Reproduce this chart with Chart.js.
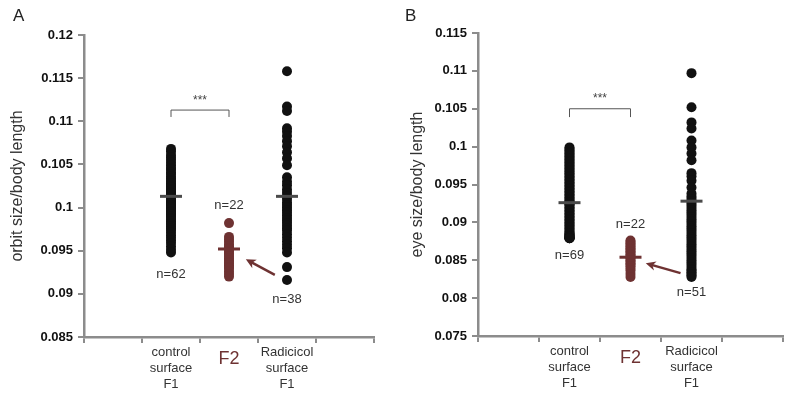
<!DOCTYPE html>
<html>
<head>
<meta charset="utf-8">
<script src="https://cdn.jsdelivr.net/npm/chart.js@4.4.0/dist/chart.umd.min.js"></script>
<style>
  body { margin: 0; background: #fff; }
  .wrap { position: relative; width: 800px; height: 397px; }
  .panel { position: absolute; top: 0; width: 400px; height: 397px; }
</style>
</head>
<body>
<div class="wrap">
  <div class="panel" style="left:0"><canvas id="chartA" width="400" height="397"></canvas></div>
  <div class="panel" style="left:400px"><canvas id="chartB" width="400" height="397"></canvas></div>
</div>
<script>
// dot plots: orbit size (A) and eye size (B) relative to body length

const groupKeys = ['left', 'control', 'F2', 'Radicicol', 'right'];
const groupLabels = ['', ['control', 'surface', 'F1'], 'F2', ['Radicicol', 'surface', 'F1'], ''];

// panel A - orbit size/body length
const orbitControl = [
  0.1068, 0.1065, 0.1061, 0.1058, 0.1055, 0.1052, 0.1049, 0.1046, 0.1044, 0.1041,
  0.1039, 0.1036, 0.1034, 0.1032, 0.1030, 0.1028, 0.1026, 0.1024, 0.1023, 0.1021,
  0.1020, 0.1018, 0.1017, 0.1015, 0.1014, 0.1013, 0.1012, 0.1011, 0.1010, 0.1009,
  0.1008, 0.1007, 0.1006, 0.1005, 0.1004, 0.1003, 0.1002, 0.1001, 0.1000, 0.0999,
  0.0998, 0.0996, 0.0995, 0.0993, 0.0992, 0.0990, 0.0988, 0.0986, 0.0984, 0.0982,
  0.0980, 0.0978, 0.0976, 0.0974, 0.0971, 0.0968, 0.0965, 0.0962, 0.0959, 0.0955,
  0.0951, 0.0948
];
const orbitF2 = [
  0.0982, 0.0966, 0.0963, 0.0960, 0.0957, 0.0955, 0.0953, 0.0951, 0.0949, 0.0947,
  0.0945, 0.0943, 0.0941, 0.0939, 0.0937, 0.0935, 0.0933, 0.0931, 0.0929, 0.0926,
  0.0923, 0.0920
];
const orbitRadicicol = [
  0.1158, 0.1117, 0.1112, 0.1092, 0.1088, 0.1083, 0.1077, 0.1071, 0.1064, 0.1057,
  0.1049, 0.1035, 0.1030, 0.1026, 0.1021, 0.1017, 0.1013, 0.1010, 0.1006, 0.1003,
  0.1000, 0.0997, 0.0994, 0.0991, 0.0988, 0.0985, 0.0982, 0.0979, 0.0976, 0.0973,
  0.0969, 0.0965, 0.0961, 0.0957, 0.0953, 0.0948, 0.0931, 0.0916
];
const orbitMeans = [0.1013, 0.0952, 0.1013];
const orbitCounts = ['n=62', 'n=22', 'n=38'];
const orbitTicks = [0.085, 0.12];

// panel B - eye size/body length
const eyeControl = [
  0.0999, 0.0997, 0.0995, 0.0993, 0.0991, 0.0989, 0.0987, 0.0985, 0.0983, 0.0981,
  0.0979, 0.0977, 0.0975, 0.0973, 0.0971, 0.0969, 0.0967, 0.0965, 0.0963, 0.0961,
  0.0959, 0.0957, 0.0955, 0.0953, 0.0951, 0.0949, 0.0947, 0.0945, 0.0943, 0.0941,
  0.0939, 0.0937, 0.0935, 0.0933, 0.0931, 0.0929, 0.0927, 0.0926, 0.0925, 0.0924,
  0.0922, 0.0920, 0.0918, 0.0916, 0.0914, 0.0912, 0.0910, 0.0908, 0.0906, 0.0904,
  0.0902, 0.0900, 0.0898, 0.0896, 0.0894, 0.0892, 0.0890, 0.0888, 0.0886, 0.0885,
  0.0884, 0.0883, 0.0882, 0.0881, 0.0880, 0.0880, 0.0879, 0.0879, 0.0879
];
const eyeF2 = [
  0.0876, 0.0874, 0.0872, 0.0870, 0.0868, 0.0866, 0.0864, 0.0862, 0.0860, 0.0858,
  0.0856, 0.0854, 0.0852, 0.0850, 0.0848, 0.0846, 0.0844, 0.0842, 0.0839, 0.0836,
  0.0832, 0.0828
];
const eyeRadicicol = [
  0.1097, 0.1052, 0.1032, 0.1024, 0.1008, 0.0999, 0.0991, 0.0982, 0.0965, 0.0961,
  0.0955, 0.0946, 0.0938, 0.0934, 0.0931, 0.0928, 0.0925, 0.0922, 0.0919, 0.0916,
  0.0913, 0.0910, 0.0907, 0.0904, 0.0901, 0.0898, 0.0895, 0.0892, 0.0889, 0.0886,
  0.0883, 0.0880, 0.0877, 0.0874, 0.0871, 0.0868, 0.0865, 0.0862, 0.0859, 0.0856,
  0.0853, 0.0850, 0.0847, 0.0844, 0.0841, 0.0838, 0.0836, 0.0834, 0.0832, 0.0830,
  0.0828
];
const eyeMeans = [0.0926, 0.0854, 0.0928];
const eyeCounts = ['n=69', 'n=22', 'n=51'];
const eyeTicks = [0.075, 0.115];

const BLACK = '#111111';
const BROWN = '#6e3232';
const AXIS = '#8c8c8c';
const FONT = 'Arial, "Liberation Sans"';

function toPoints(key, values) {
    return values.map(v => ({ x: key, y: v }));
}

// annotations: n labels, significance bracket, arrow, panel letter
function makeAnnotations(cfg) {
    return {
        id: 'annotations',
        afterDraw(chart) {
            const c = chart.ctx;
            const xs = chart.scales.x, ys = chart.scales.y;
            const px = v => xs.getPixelForValue(v);
            const py = v => ys.getPixelForValue(v);
            c.save();
            c.textAlign = 'center';
            c.textBaseline = 'middle';
            c.font = '13px ' + FONT;
            c.fillStyle = '#333';
            cfg.counts.forEach((t, i) => c.fillText(t, px(i + 1), py(cfg.countY[i])));

            // bracket + stars
            c.strokeStyle = '#555';
            c.lineWidth = 1;
            c.beginPath();
            c.moveTo(px(1), py(cfg.bracket[1]));
            c.lineTo(px(1), py(cfg.bracket[0]));
            c.lineTo(px(2), py(cfg.bracket[0]));
            c.lineTo(px(2), py(cfg.bracket[1]));
            c.stroke();
            c.font = '12px ' + FONT;
            c.fillStyle = '#444';
            c.fillText('***', px(1.5), py(cfg.stars));

            // arrow
            const x1 = px(cfg.arrow[0]), y1 = py(cfg.arrow[1]);
            const x2 = px(cfg.arrow[2]), y2 = py(cfg.arrow[3]);
            const ang = Math.atan2(y2 - y1, x2 - x1);
            c.strokeStyle = BROWN;
            c.fillStyle = BROWN;
            c.lineWidth = 2.5;
            c.beginPath();
            c.moveTo(x1, y1);
            c.lineTo(x2 - 6 * Math.cos(ang), y2 - 6 * Math.sin(ang));
            c.stroke();
            c.beginPath();
            c.moveTo(x2, y2);
            c.lineTo(x2 - 11 * Math.cos(ang - 0.45), y2 - 11 * Math.sin(ang - 0.45));
            c.lineTo(x2 - 7 * Math.cos(ang), y2 - 7 * Math.sin(ang));
            c.lineTo(x2 - 11 * Math.cos(ang + 0.45), y2 - 11 * Math.sin(ang + 0.45));
            c.closePath();
            c.fill();

            // panel letter
            c.textAlign = 'left';
            c.font = '17px ' + FONT;
            c.fillStyle = '#222';
            c.fillText(cfg.letter, cfg.letterX, 16);
            c.restore();
        }
    };
}

function makeChart(id, cfg) {
    const ctx = document.getElementById(id);
    return new Chart(ctx, {
        type: 'scatter',
        data: {
            datasets: [
                {
                    label: 'mean',
                    data: cfg.means.map((m, i) => ({ x: groupKeys[i + 1], y: m })),
                    pointStyle: 'line',
                    pointRadius: 11,
                    pointBorderWidth: 3,
                    borderColor: ['#4a4a4a', BROWN, '#4a4a4a'],
                    backgroundColor: 'transparent'
                },
                { label: 'control', data: toPoints('control', cfg.control), pointRadius: 5, borderWidth: 0, backgroundColor: BLACK },
                { label: 'F2', data: toPoints('F2', cfg.f2), pointRadius: 5, borderWidth: 0, backgroundColor: BROWN },
                { label: 'Radicicol', data: toPoints('Radicicol', cfg.radicicol), pointRadius: 5, borderWidth: 0, backgroundColor: BLACK }
            ]
        },
        options: {
            responsive: false,
            animation: false,
            layout: { padding: { left: 0, top: cfg.top, right: cfg.right, bottom: 0 } },
            plugins: { legend: { display: false }, tooltip: { enabled: false } },
            scales: {
                x: {
                    type: 'category',
                    labels: groupKeys,
                    offset: true,
                    afterFit: s => { s.height = cfg.xHeight; },
                    border: { color: AXIS, width: 2.5 },
                    grid: { offset: true, drawOnChartArea: false, color: AXIS, lineWidth: 2, tickLength: 6 },
                    ticks: {
                        autoSkip: false,
                        maxRotation: 0,
                        padding: 2,
                        crossAlign: 'near',
                        callback: (v, i) => groupLabels[i],
                        color: c => c.index === 2 ? BROWN : '#333',
                        font: c => c.index === 2
                            ? { family: FONT, size: 18, lineHeight: 1.55 }
                            : { family: FONT, size: 13, lineHeight: 1.2 }
                    }
                },
                y: {
                    min: cfg.ticks[0],
                    max: cfg.ticks[1],
                    afterFit: s => { s.width = cfg.yWidth; },
                    border: { color: AXIS, width: 2.5 },
                    grid: { drawOnChartArea: false, color: AXIS, lineWidth: 2, tickLength: 6 },
                    ticks: {
                        stepSize: 0.005,
                        padding: 5,
                        color: '#111',
                        font: { family: FONT, size: 13, weight: 'bold' },
                        callback: v => String(+Number(v).toFixed(3))
                    },
                    title: {
                        display: true,
                        text: cfg.yTitle,
                        color: '#333',
                        padding: { top: 8, bottom: 0 },
                        font: { family: FONT, size: 16 }
                    }
                }
            }
        },
        plugins: [makeAnnotations(cfg)]
    });
}

makeChart('chartA', {
    control: orbitControl, f2: orbitF2, radicicol: orbitRadicicol,
    means: orbitMeans, counts: orbitCounts, ticks: orbitTicks,
    yTitle: 'orbit size/body length',
    countY: [0.0922, 0.1002, 0.0893],
    bracket: [0.1113, 0.1105], stars: 0.1124,
    arrow: [2.79, 0.0922, 2.29, 0.0940],
    letter: 'A', letterX: 13,
    top: 35, right: 26, yWidth: 84, xHeight: 60
});

makeChart('chartB', {
    control: eyeControl, f2: eyeF2, radicicol: eyeRadicicol,
    means: eyeMeans, counts: eyeCounts, ticks: eyeTicks,
    yTitle: 'eye size/body length',
    countY: [0.0857, 0.0897, 0.0807],
    bracket: [0.1050, 0.1039], stars: 0.1063,
    arrow: [2.82, 0.0833, 2.25, 0.0846],
    letter: 'B', letterX: 5,
    top: 33, right: 17, yWidth: 78, xHeight: 61
});
</script>
</body>
</html>
